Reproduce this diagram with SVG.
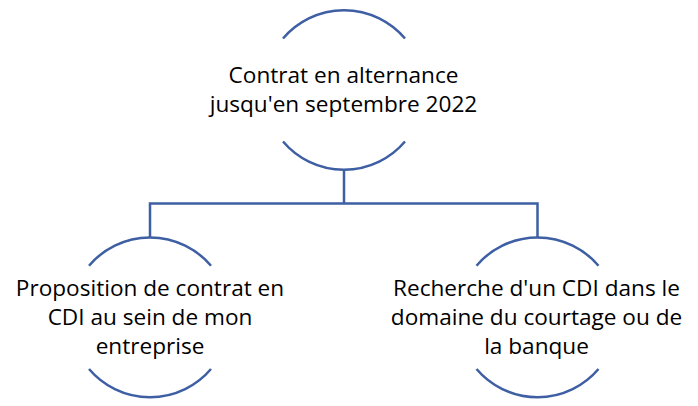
<svg xmlns="http://www.w3.org/2000/svg" width="698" height="406" viewBox="0 0 698 406">
<style>
.arc{fill:none;stroke:#3E5FA3;stroke-width:2.5}
.conn{fill:none;stroke:#3E5FA3;stroke-width:2.5}
.t{font-family:"Open Sans","Liberation Sans",sans-serif;font-size:22.6px;fill:#000;text-anchor:middle}
</style>
<rect width="698" height="406" fill="#fff"/>
<g id="connectors">
<path class="conn" d="M344 170 V203.5 M150 237.3 V203.5 H537.5 V237.3"/>
</g>
<g id="node-top">
<path class="arc" d="M283 38.5 A80 80 0 0 1 405 38.5"/>
<path class="arc" d="M283 141.5 A80 80 0 0 0 405 141.5"/>
<text class="t"><tspan x="343.5" y="82.5">Contrat en alternance</tspan><tspan x="343.5" y="111.5">jusqu'en septembre 2022</tspan></text>
</g>
<g id="node-left">
<path class="arc" d="M89 265.7 A80 80 0 0 1 211 265.7"/>
<path class="arc" d="M89 369 A80 80 0 0 0 211 369"/>
<text class="t"><tspan x="150" y="295.5">Proposition de contrat en</tspan><tspan x="150" y="324.5">CDI au sein de mon</tspan><tspan x="150" y="354">entreprise</tspan></text>
</g>
<g id="node-right">
<path class="arc" d="M476.5 265.7 A80 80 0 0 1 598.5 265.7"/>
<path class="arc" d="M476.5 369 A80 80 0 0 0 598.5 369"/>
<text class="t"><tspan x="536.5" y="295.5">Recherche d'un CDI dans le</tspan><tspan x="536.5" y="324.5">domaine du courtage ou de</tspan><tspan x="536.5" y="354">la banque</tspan></text>
</g>
</svg>
